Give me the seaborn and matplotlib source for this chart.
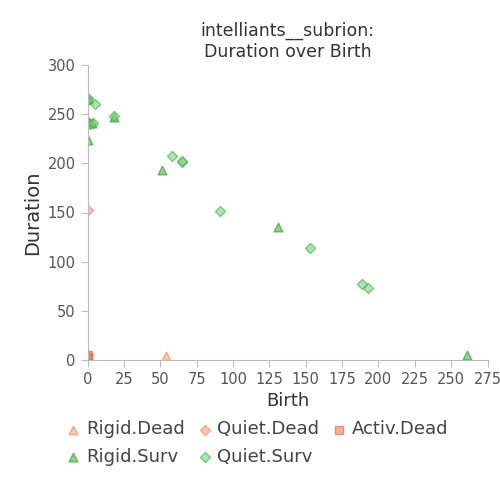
import matplotlib
matplotlib.use("Agg")
import matplotlib.pyplot as plt
import seaborn as sns
import pandas as pd

# values
rigid_dead_x = [54, 0]
rigid_dead_y = [4, 3]
quiet_dead_x = [0, 0]
quiet_dead_y = [153, 5]
activ_dead_x = [0, 0]
activ_dead_y = [5, 2]
rigid_surv_x = [0, 51, 131, 261, 18, 3, 0, 1]
rigid_surv_y = [224, 193, 135, 5, 247, 241, 265, 242]
quiet_surv_x = [0, 0, 5, 18, 58, 65, 65, 91, 153, 189, 193, 2, 4]
quiet_surv_y = [266, 264, 260, 248, 207, 201, 202, 152, 114, 77, 73, 240, 241]

groups = [
    ("Rigid.Dead", rigid_dead_x, rigid_dead_y),
    ("Quiet.Dead", quiet_dead_x, quiet_dead_y),
    ("Activ.Dead", activ_dead_x, activ_dead_y),
    ("Rigid.Surv", rigid_surv_x, rigid_surv_y),
    ("Quiet.Surv", quiet_surv_x, quiet_surv_y),
]
rows = []
for name, xs, ys in groups:
    for x, y in zip(xs, ys):
        rows.append({"Birth": x, "Duration": y, "group": name})
df = pd.DataFrame(rows)

colors = {"Rigid.Dead": "#f4a582", "Quiet.Dead": "#f4a582", "Activ.Dead": "#f08060",
          "Rigid.Surv": "#4daf4a", "Quiet.Surv": "#7fcf7f"}
edges = {"Rigid.Dead": "#f08050", "Quiet.Dead": "#f08050", "Activ.Dead": "#e06040",
         "Rigid.Surv": "#2a9a2a", "Quiet.Surv": "#3fae3f"}
markers = {"Rigid.Dead": "^", "Quiet.Dead": "D", "Activ.Dead": "s",
           "Rigid.Surv": "^", "Quiet.Surv": "D"}
sizes = {"^": 40, "D": 26, "s": 30}

sns.set_style("white")
fig, ax = plt.subplots(figsize=(5, 5), dpi=100)
for name, _, _ in groups:
    sub = df[df.group == name]
    m = markers[name]
    sns.scatterplot(data=sub, x="Birth", y="Duration", ax=ax, marker=m, s=sizes[m],
                    color=colors[name], edgecolor=edges[name], linewidth=1,
                    alpha=0.6, label=name)

ax.set_xlim(0, 275)
ax.set_ylim(0, 300)
ax.set_xticks(range(0, 276, 25))
ax.set_yticks(range(0, 301, 50))
for s in ["top", "right"]:
    ax.spines[s].set_visible(False)
for s in ["left", "bottom"]:
    ax.spines[s].set_color("#bbbbbb")
ax.tick_params(colors="#555555", labelsize=10.5, length=5, color="#bbbbbb", direction="out",
               left=True, bottom=True)
ax.set_xlabel("Birth", fontsize=13, color="#333333")
ax.set_ylabel("Duration", fontsize=14, color="#333333")
ax.set_title("intelliants__subrion:\nDuration over Birth", fontsize=12.5, color="#333333")

# legend fills column-wise, so reorder to read row-wise like the reference
h, l = ax.get_legend_handles_labels()
order = [0, 3, 1, 4, 2]
ax.legend([h[i] for i in order], [l[i] for i in order], loc="upper center",
          bbox_to_anchor=(0.42, -0.15), ncol=3, frameon=False, fontsize=13,
          handletextpad=0.1, columnspacing=0.5, handlelength=1.2, labelcolor="#444444")
fig.subplots_adjust(left=0.175, right=0.975, top=0.87, bottom=0.28)
fig.savefig("out.png", dpi=100)
